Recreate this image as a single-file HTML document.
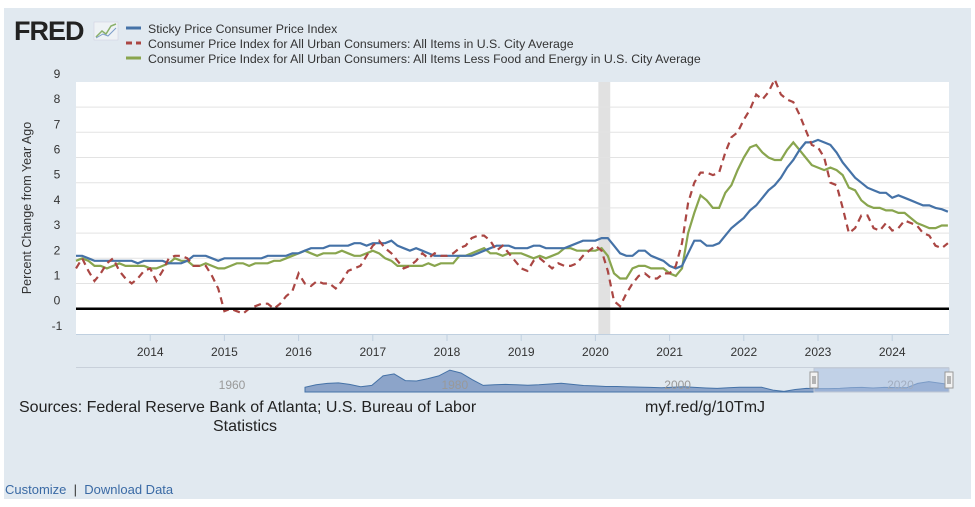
<!DOCTYPE html>
<html><head><meta charset="utf-8"><style>
body{margin:0;width:975px;height:507px;background:#fff;overflow:hidden;font-family:"Liberation Sans",sans-serif}
#panel{position:absolute;left:4px;top:8px;width:967px;height:491px;background:#e1e9f0}
svg{position:absolute;left:0;top:0}
.lnk{color:#3a6aa5;text-decoration:none}
</style></head><body>
<div id="panel"></div>
<svg id="chart" width="975" height="507">
 <text x="14" y="40" font-size="27" font-weight="bold" fill="#222" letter-spacing="-1">FRED</text>
 <g><rect x="94" y="22" width="24" height="18" fill="#eef2f5" stroke="#ccd" stroke-width="0.5"/><polyline points="96,37 102,31 106,34 111,26 116,24" fill="none" stroke="#8ab06a" stroke-width="1.5"/><polyline points="96,38 103,34 108,36 116,28" fill="none" stroke="#7b9cc9" stroke-width="1"/></g>
 <g>
  <g><line x1="126" y1="28" x2="141" y2="28" stroke="#4572a7" stroke-width="3"/><text x="148" y="33" font-size="12.3" fill="#333">Sticky Price Consumer Price Index</text></g>
  <g><line x1="126" y1="43" x2="141" y2="43" stroke="#aa4643" stroke-width="3" stroke-dasharray="6,4"/><text x="148" y="48" font-size="12.3" fill="#333">Consumer Price Index for All Urban Consumers: All Items in U.S. City Average</text></g>
  <g><line x1="126" y1="58" x2="141" y2="58" stroke="#89a54e" stroke-width="3"/><text x="148" y="63" font-size="12.3" fill="#333">Consumer Price Index for All Urban Consumers: All Items Less Food and Energy in U.S. City Average</text></g>
 </g>
 <rect x="76" y="82" width="873" height="252" fill="#fff"/>
 <g id="grid"></g><g id="series"></g><g id="axes"></g><g id="nav"></g>
 <text transform="translate(31,208) rotate(-90)" text-anchor="middle" font-size="12.5" fill="#333">Percent Change from Year Ago</text>
 <text x="19" y="412" font-size="16" fill="#222">Sources: Federal Reserve Bank of Atlanta; U.S. Bureau of Labor</text>
 <text x="245" y="431" font-size="16" fill="#222" text-anchor="middle">Statistics</text>
 <text x="645" y="412" font-size="16" fill="#222">myf.red/g/10TmJ</text>
</svg>
<div style="position:absolute;left:5px;top:482px;font-size:13px;color:#333"><a class="lnk">Customize</a> &nbsp;|&nbsp; <a class="lnk">Download Data</a></div>
<script>
const startYear=2013;
const yTicks=[-1,0,1,2,3,4,5,6,7,8,9];
const xTicks=[2014,2015,2016,2017,2018,2019,2020,2021,2022,2023,2024];
const recession=[2020.04,2020.2];
const sticky=[2.1,2.1,2.0,1.9,1.9,1.9,1.9,1.9,1.9,1.9,1.8,1.9,
1.9,1.9,1.9,1.8,1.8,1.8,1.9,2.1,2.1,2.1,2.0,1.9,
2.0,2.0,2.0,2.0,2.0,2.0,2.0,2.1,2.1,2.1,2.1,2.2,
2.2,2.3,2.4,2.4,2.4,2.5,2.5,2.5,2.5,2.6,2.6,2.5,
2.6,2.6,2.6,2.7,2.5,2.4,2.3,2.4,2.3,2.2,2.1,2.1,
2.1,2.1,2.1,2.1,2.1,2.2,2.3,2.4,2.5,2.5,2.5,2.4,
2.4,2.4,2.5,2.5,2.4,2.4,2.4,2.4,2.5,2.6,2.7,2.7,
2.7,2.8,2.8,2.5,2.2,2.1,2.1,2.3,2.3,2.1,2.0,1.9,
1.7,1.6,1.7,2.2,2.7,2.7,2.5,2.5,2.6,2.9,3.2,3.4,
3.6,3.9,4.1,4.4,4.7,4.9,5.2,5.6,5.9,6.3,6.6,6.6,
6.7,6.6,6.5,6.2,5.8,5.5,5.2,5.0,4.8,4.7,4.6,4.6,
4.4,4.5,4.4,4.3,4.2,4.1,4.1,4.0,3.95,3.85];
const cpi=[1.6,2.0,1.5,1.1,1.4,1.8,2.0,1.5,1.2,1.0,1.2,1.5,
1.6,1.1,1.5,2.0,2.1,2.1,2.0,1.7,1.7,1.7,1.3,0.8,
-0.1,0.0,-0.1,-0.2,0.0,0.1,0.2,0.2,0.0,0.2,0.5,0.7,
1.4,1.0,0.9,1.1,1.0,1.0,0.8,1.1,1.5,1.6,1.7,2.1,
2.5,2.7,2.4,2.2,1.9,1.6,1.7,1.9,2.2,2.0,2.2,2.1,
2.1,2.2,2.4,2.5,2.8,2.9,2.9,2.7,2.3,2.5,2.2,1.9,
1.6,1.5,1.9,2.0,1.8,1.6,1.8,1.7,1.7,1.8,2.1,2.3,
2.5,2.3,1.5,0.3,0.1,0.6,1.0,1.3,1.4,1.2,1.2,1.4,
1.4,1.7,2.6,4.2,5.0,5.4,5.4,5.3,5.4,6.2,6.8,7.0,
7.5,7.9,8.5,8.3,8.6,9.1,8.5,8.3,8.2,7.7,7.1,6.5,
6.4,6.0,5.0,4.9,4.0,3.0,3.2,3.7,3.7,3.2,3.1,3.4,
3.1,3.2,3.5,3.4,3.3,3.0,2.9,2.5,2.4,2.6];
const core=[1.9,2.0,1.9,1.7,1.7,1.6,1.7,1.8,1.7,1.7,1.7,1.7,
1.6,1.6,1.7,1.8,2.0,1.9,1.9,1.7,1.7,1.8,1.7,1.6,
1.6,1.7,1.8,1.8,1.7,1.8,1.8,1.8,1.9,1.9,2.0,2.1,
2.2,2.3,2.2,2.1,2.2,2.2,2.2,2.3,2.2,2.1,2.1,2.2,
2.3,2.2,2.0,1.9,1.7,1.7,1.7,1.7,1.7,1.8,1.7,1.8,
1.8,1.8,2.1,2.1,2.2,2.3,2.4,2.2,2.2,2.1,2.2,2.2,
2.2,2.1,2.0,2.1,2.0,2.1,2.2,2.4,2.4,2.3,2.3,2.3,
2.3,2.4,2.1,1.4,1.2,1.2,1.6,1.7,1.7,1.6,1.6,1.6,
1.4,1.3,1.6,3.0,3.8,4.5,4.3,4.0,4.0,4.6,4.9,5.5,
6.0,6.4,6.5,6.2,6.0,5.9,5.9,6.3,6.6,6.3,6.0,5.7,
5.6,5.5,5.6,5.5,5.3,4.8,4.7,4.3,4.1,4.0,4.0,3.9,
3.9,3.8,3.8,3.6,3.4,3.3,3.2,3.2,3.3,3.3];
const navYears=[1967,1968,1969,1970,1971,1972,1973,1974,1975,1976,1977,1978,1979,1980,1981,1982,1983,1984,1985,1986,1987,1988,1989,1990,1991,1992,1993,1994,1995,1996,1997,1998,1999,2000,2001,2002,2003,2004,2005,2006,2007,2008,2009,2010,2011,2012,2013,2014,2015,2016,2017,2018,2019,2020,2021,2022,2023,2024.8];
const navValues=[2.5,3.8,4.5,4.8,4.0,2.8,3.5,8.5,9.5,6.0,5.8,7.0,8.5,11.5,10,6.5,3.5,3.8,4.0,3.8,3.6,3.8,4.2,4.6,4.0,3.4,3.2,2.9,2.9,2.7,2.6,2.4,2.2,2.5,2.8,2.4,2.1,1.9,2.2,2.5,2.5,2.5,1.0,0.3,1.3,1.9,1.8,1.8,1.9,2.3,2.4,2.1,2.4,2.3,2.2,4.5,5.5,4.0];
const navTicks=[1960,1980,2000,2020];

const NS="http://www.w3.org/2000/svg";
function mk(tag,attrs,parent){const e=document.createElementNS(NS,tag);for(const k in attrs)e.setAttribute(k,attrs[k]);parent.appendChild(e);return e;}
const X0=76,X1=949,PX=74.2;
function xs(t){return X0+(t-startYear)*PX;}
function ys(v){return 308.7-25.2*v;}
function nx(y){return 305+(y-1967)*11.14;}
function ny(v){return 392-v*1.9;}
const grid=document.getElementById('grid'),axes=document.getElementById('axes'),ser=document.getElementById('series'),nav=document.getElementById('nav');
let rr=mk('rect',{x:xs(recession[0]),y:82,width:xs(recession[1])-xs(recession[0]),height:252,fill:'#e1e1e1'},grid);


yTicks.forEach(v=>{
 if(v>0&&v<9){const l=mk('line',{x1:X0,x2:X1,y1:ys(v),y2:ys(v),stroke:'#e3e3e3',"stroke-width":1},grid);
 
 }
 const t=mk('text',{x:57,y:ys(v)-4,"font-size":12,fill:'#333',"text-anchor":'middle'},axes);
 t.textContent=v;
 
 
});
const zl=mk('line',{x1:X0,x2:X1,y1:ys(0),y2:ys(0),stroke:'#000',"stroke-width":2.5},axes);


const xa=mk('line',{x1:X0,x2:X1,y1:334.5,y2:334.5,stroke:'#c0d0e0',"stroke-width":1},axes);


xTicks.forEach(y=>{
 const tk=mk('line',{x1:xs(y),x2:xs(y),y1:334,y2:341,stroke:'#c0d0e0'},axes);
 
 
 const t=mk('text',{x:xs(y),y:356,"font-size":12,fill:'#333',"text-anchor":'middle'},axes);
 t.textContent=y;
 
 
});
function path(arr){return arr.map((v,i)=>(i?'L':'M')+xs(startYear+i/12).toFixed(1)+','+ys(v).toFixed(1)).join('');}
const s1=mk('path',{d:path(core),fill:'none',stroke:'#89a54e',"stroke-width":2.2},ser);


const s2=mk('path',{d:path(sticky),fill:'none',stroke:'#4572a7',"stroke-width":2.2},ser);


const s3=mk('path',{d:path(cpi),fill:'none',stroke:'#aa4643',"stroke-width":2.2,"stroke-dasharray":'7,5'},ser);


const nb=mk('line',{x1:X0,x2:X1,y1:367.5,y2:367.5,stroke:'#c8d0da'},nav);


let d='M'+nx(navYears[0]).toFixed(1)+',392'+navYears.map((y,i)=>'L'+nx(y).toFixed(1)+','+ny(navValues[i]).toFixed(1)).join('')+'L'+nx(navYears[navYears.length-1]).toFixed(1)+',392Z';
const na=mk('path',{d:d,fill:'#7c98c2',"fill-opacity":0.85,stroke:'#4572a7',"stroke-width":1},nav);


navTicks.forEach(y=>{const t=mk('text',{x:nx(y)+5,y:389,"font-size":12,fill:'#999',"text-anchor":'middle'},nav);
 t.textContent=y;
 
 });
const sel=mk('rect',{x:814,y:368,width:135,height:24,fill:'#a8bde0',"fill-opacity":0.55,stroke:'#c0c8d4'},nav);


[814,949].forEach((hx,i)=>{const h=mk('rect',{x:hx-4,y:372,width:8,height:16,fill:'#f2f2f2',stroke:'#999'},nav);
 
 
 mk('line',{x1:hx-1,x2:hx-1,y1:376,y2:384,stroke:'#777'},nav);mk('line',{x1:hx+1,x2:hx+1,y1:376,y2:384,stroke:'#777'},nav);});
</script>
</body></html>
